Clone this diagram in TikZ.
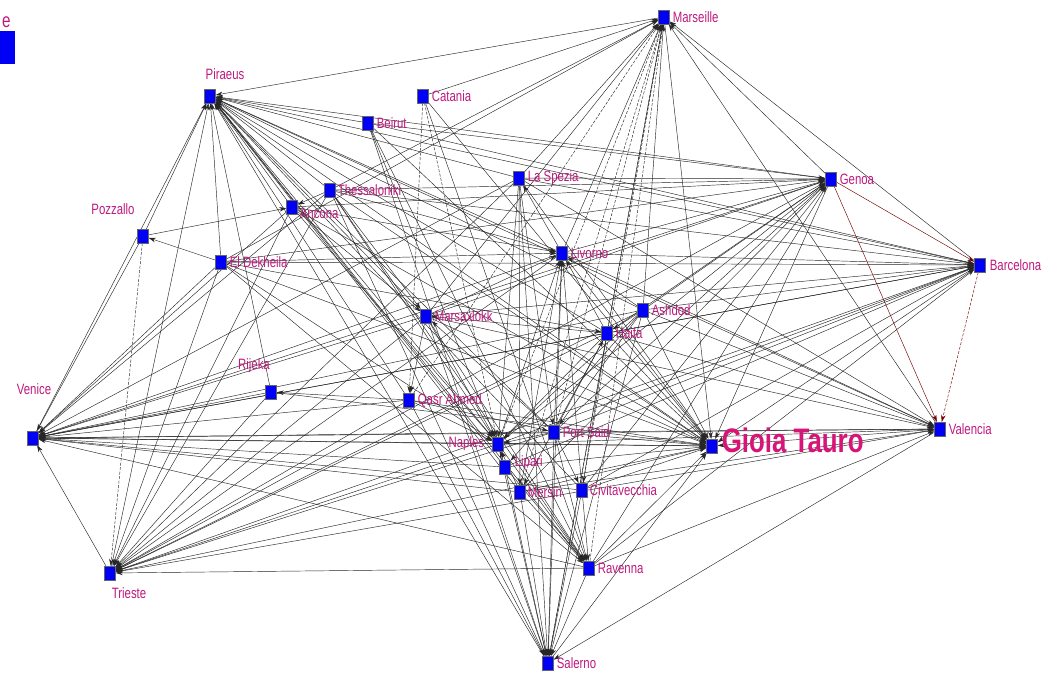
\documentclass[tikz,border=0pt]{standalone}
\usepackage{fontspec}
\setmainfont{Liberation Sans}[FakeStretch=0.76]
\usetikzlibrary{arrows.meta}
\definecolor{lab}{RGB}{190,25,125}
\definecolor{gt}{RGB}{215,20,120}
\definecolor{nb}{RGB}{0,0,245}
\pgfdeclarelayer{bg}
\pgfsetlayers{bg,main}
\begin{document}
\begin{tikzpicture}[x=1pt,y=-1pt,
  port/.style={rectangle,fill=nb,draw=black!60,line width=0.3pt,minimum width=11pt,minimum height=14pt,inner sep=0pt},
  lbl/.style={text=lab,font=\fontsize{15}{15}\selectfont,inner sep=0pt},
  link/.style={draw=black!85,line width=0.45pt,-{Stealth[length=7pt,width=4.5pt]}},
  dlink/.style={link,dash pattern=on 3pt off 1.5pt},
  rlink/.style={link,draw=red!45!black}]
\useasboundingbox (0,0) rectangle (1049,673);
% top-left fragment
\node[lbl,anchor=west,font=\fontsize{20}{20}\selectfont] (frag) at (2,22) {e};
\fill[nb] (0,31) rectangle (15,64);
% nodes
\node[port,label={[lbl,label distance=3pt]right:Marseille}] (mar) at (664,17) {};
\node[port,label={[lbl,label distance=9pt,xshift=15pt]above:Piraeus}] (pir) at (210,96) {};
\node[port,label={[lbl,label distance=3pt]right:Catania}] (cat) at (423,96) {};
\node[port,label={[lbl,label distance=3pt]right:Beirut}] (bei) at (368,123) {};
\node[port,label={[lbl,label distance=3pt]right:La Spezia}] (las) at (519,178) {};
\node[port,label={[lbl,label distance=2pt]right:Thessaloniki}] (the) at (330,190) {};
\node[port,label={[lbl,label distance=3pt]right:Genoa}] (gen) at (831,179) {};
\node[port,label={[lbl,label distance=2pt,yshift=-6pt]right:Ancona}] (anc) at (292,207) {};
\node[port,label={[lbl,label distance=14pt,xshift=-30pt]above:Pozzallo}] (poz) at (143,236) {};
\node[port,label={[lbl,label distance=3pt]right:Livorno}] (liv) at (562,253) {};
\node[port,label={[lbl,label distance=3pt]right:El Dekheila}] (eld) at (221,262) {};
\node[port,label={[lbl,label distance=4pt]right:Barcelona}] (bar) at (980,265) {};
\node[port,label={[lbl,label distance=3pt]right:Marsaxlokk}] (msx) at (426,316) {};
\node[port,label={[lbl,label distance=3pt]right:Ashdod}] (ash) at (643,310) {};
\node[port,label={[lbl,label distance=3pt]right:Haifa}] (hai) at (607,333) {};
\node[port,label={[lbl,label distance=12pt,xshift=-17pt]above:Rijeka}] (rij) at (271,392) {};
\node[port,label={[lbl,label distance=3pt]right:Qasr Ahmed}] (qas) at (409,400) {};
\node[port,label={[lbl,label distance=36pt,xshift=1pt]above:Venice}] (ven) at (33,438) {};
\node[port,label={[lbl,label distance=3pt]right:Port Said}] (pts) at (554,432) {};
\node[port,label={[lbl,label distance=8pt]left:Naples}] (nap) at (498,444) {};
\node[port,label={[text=gt,inner sep=0pt,font=\fontsize{34}{34}\selectfont\bfseries,label distance=4pt,yshift=6pt]right:Gioia Tauro}] (gio) at (712,446) {};
\node[port,label={[lbl,label distance=3pt]right:Valencia}] (val) at (940,429) {};
\node[port,label={[lbl,label distance=4pt,yshift=4pt]right:Lipari}] (lip) at (505,467) {};
\node[port,label={[lbl,label distance=2pt]right:Mersin}] (mer) at (520,492) {};
\node[port,label={[lbl,label distance=2pt]right:Civitavecchia}] (civ) at (582,490) {};
\node[port,label={[lbl,label distance=3pt]right:Ravenna}] (rav) at (589,568) {};
\node[port,label={[lbl,label distance=7pt,xshift=19pt]below:Trieste}] (tri) at (110,573) {};
\node[port,label={[lbl,label distance=3pt]right:Salerno}] (sal) at (548,663) {};
\begin{pgfonlayer}{bg}
% into Gioia Tauro
\foreach \s in {mar,pir,cat,bei,las,the,gen,anc,liv,eld,bar,msx,ash,hai,rij,qas,ven,pts,nap,val,lip,mer,civ,rav,tri,sal}
  \draw[link] (\s) -- (gio);
% into Piraeus
\foreach \s in {mar,gen,bar,val,las,liv,bei,the,anc,hai,ash,pts,nap,mer,civ,rav,lip,msx,qas,eld,rij,sal,ven,tri,poz}
  \draw[link] (\s) -- (pir);
% into Marseille
\foreach \s in {cat,las,liv,gen,bar,val,hai,ash,msx,the,eld}
  \draw[link] (\s) -- (mar);
\foreach \s in {pts,nap,civ,rav,sal,mer,qas}
  \draw[dlink] (\s) -- (mar);
% into Venice
\foreach \s in {poz,eld,anc,the,liv,gen,bar,msx,rij,hai,ash,qas,pts,nap,val,lip,mer,civ,rav,tri,las}
  \draw[link] (\s) -- (ven);
% into Trieste
\foreach \s in {eld,anc,the,liv,gen,bar,msx,hai,ash,rij,qas,pts,nap,val,rav,las}
  \draw[link] (\s) -- (tri);
\draw[dlink] (poz) -- (tri);
% into Genoa
\foreach \s in {las,liv,the,bei,anc,eld,msx,hai,ash,pts,nap,rav,mer,civ}
  \draw[link] (\s) -- (gen);
\draw[rlink] (gen) -- (val);
\draw[rlink] (gen) -- (bar);
\draw[rlink,dash pattern=on 3pt off 1.5pt] (bar) -- (val);
% into Barcelona
\foreach \s in {liv,ash,hai,msx,pts,nap,eld,las,bei,rav,civ,the,lip}
  \draw[link] (\s) -- (bar);
% into Valencia
\foreach \s in {liv,nap,pts,hai,ash,las,rav,msx,mer}
  \draw[link] (\s) -- (val);
% into Salerno
\foreach \s in {nap,lip,mer,civ,rav,liv,pts,las,hai,ash,msx,qas,the,bei,val}
  \draw[link] (\s) -- (sal);
% others
\foreach \s/\t in {liv/las,las/nap,las/pts,las/mer,nap/liv,pts/liv,hai/liv,ash/liv,msx/liv,mer/liv,civ/liv,the/liv,anc/liv,eld/liv,
  cat/rav,bei/nap,bei/rav,msx/qas,msx/nap,hai/msx,pts/msx,msx/rav,ash/hai,hai/nap,pts/hai,hai/civ,hai/mer,
  ash/nap,ash/pts,ash/lip,pts/nap,pts/rav,pts/civ,lip/nap,mer/nap,nap/rav,qas/nap,mer/rav,lip/rav,civ/rav,
  the/anc,the/msx,the/nap,the/rav,anc/msx,anc/nap,poz/anc,eld/poz,eld/nap,eld/rav,eld/hai,qas/rij,qas/pts}
  \draw[link] (\s) -- (\t);
\draw[dlink] (cat) -- (nap);
\draw[dlink] (cat) -- (qas);
\end{pgfonlayer}
\end{tikzpicture}
\end{document}
